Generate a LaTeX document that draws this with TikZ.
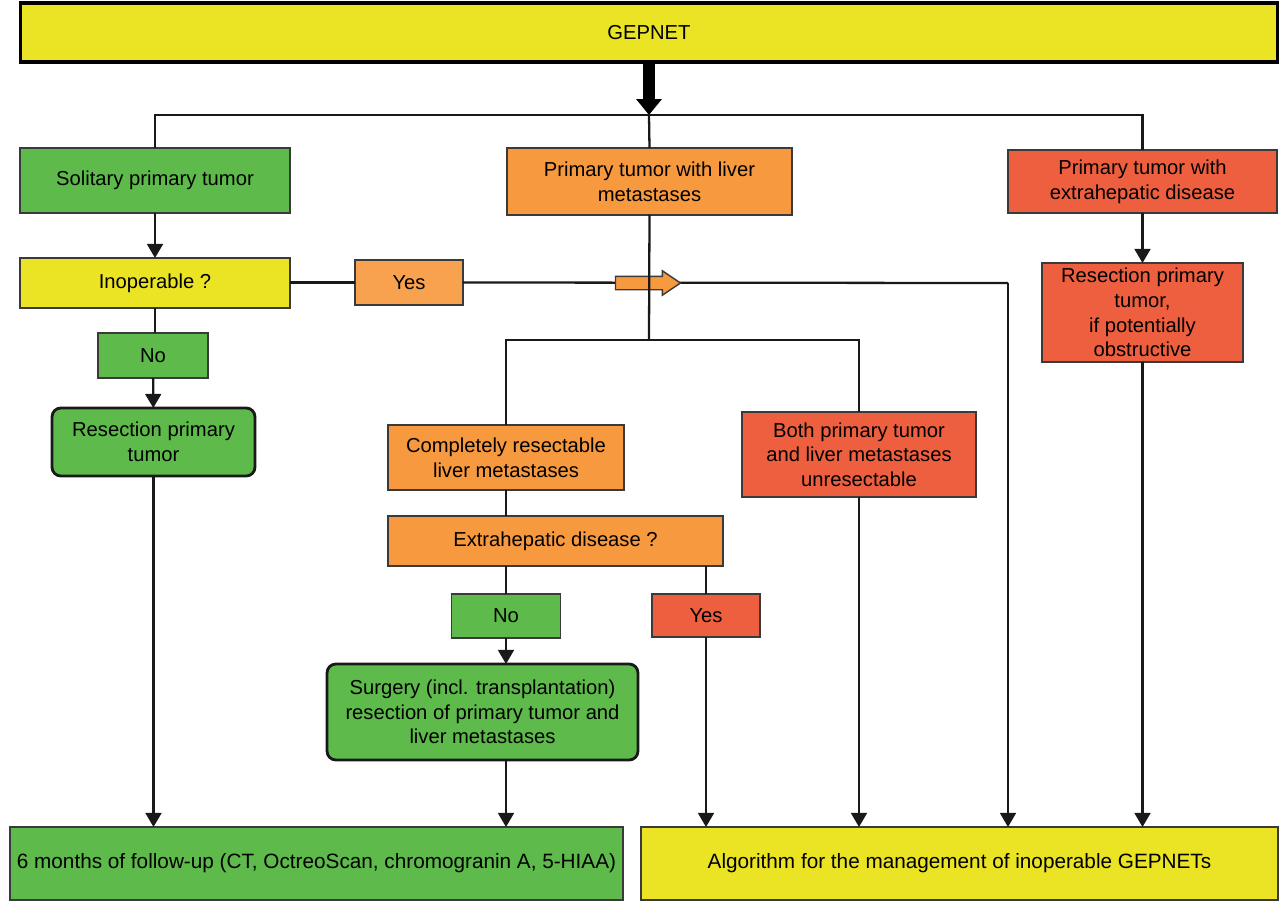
\documentclass[tikz,border=0pt]{standalone}
\usepackage{fontspec}
\setmainfont{Liberation Sans}
\usepackage{tikz}
\usetikzlibrary{arrows.meta,positioning,calc,shapes.arrows}
\definecolor{clYellow}{HTML}{EAE424}
\definecolor{clGreen}{HTML}{5DBA4B}
\definecolor{clOrange}{HTML}{F7993F}
\definecolor{clRed}{HTML}{EE5F3F}
\definecolor{clEdge}{HTML}{3A3A3A}
\tikzset{
  box/.style={rectangle, draw=clEdge, line width=0.8pt, align=center,
              inner sep=0pt, outer sep=0pt, text=black,
              font=\fontsize{11.5}{14}\selectfont},
  yellowbox/.style={box, fill=clYellow},
  greenbox/.style={box, fill=clGreen},
  orangebox/.style={box, fill=clOrange},
  redbox/.style={box, fill=clRed},
  actionbox/.style={greenbox, rounded corners=5pt, draw=black!90, line width=1.6pt},
  outcome/.style={font=\fontsize{11.8}{14}\selectfont},
  link/.style={draw=black!90, line width=1.3pt},
  flow/.style={link, -{Triangle[length=8pt, width=9pt]}},
}
\begin{document}
\begin{tikzpicture}[x=0.02cm, y=-0.02cm]
  \useasboundingbox (0,0) rectangle (1286,910);
  % top level
  \node[yellowbox, draw=black, line width=1.8pt, minimum width=25.16cm, minimum height=1.18cm] (gepnet) at (649,32.5) {GEPNET};
  \node[greenbox, minimum width=5.40cm, minimum height=1.30cm] (solitary) at (155,180.5) {Solitary primary tumor};
  \node[orangebox, minimum width=5.70cm, minimum height=1.34cm] (livermet) at (649.5,181.5) {Primary tumor with liver\\metastases};
  \node[redbox, minimum width=5.38cm, minimum height=1.26cm] (extrahep) at (1142.5,181.5) {Primary tumor with\\extrahepatic disease};
  \coordinate (split) at (649,115);
  \draw[line width=7pt, -{Triangle[length=9pt, width=14pt]}] (gepnet.south -| split) -- (split);
  \draw[link] (solitary.north) |- (split) -| (extrahep.north);
  \draw[link] (split) -- (livermet.north);

  % left branch
  \node[yellowbox, minimum width=5.40cm, minimum height=1.00cm] (inoperable) at (155,283) {Inoperable ?};
  \node[greenbox, minimum width=2.20cm, minimum height=0.90cm] (noA) at (153,355.5) {No};
  \node[actionbox, minimum width=4.06cm, minimum height=1.36cm] (resectA) at (153.5,442) {Resection primary\\tumor};
  \draw[flow] (solitary) -- (inoperable);
  \draw[link] (inoperable.south) -- (inoperable.south |- noA.north);
  \draw[flow] (noA) -- (resectA);

  % yes path to the inoperable algorithm
  \node[orangebox, fill=clOrange!92!white, minimum width=2.16cm, minimum height=0.90cm] (yesA) at (409,282.5) {Yes};
  \coordinate (yesturn) at (1008,283);
  \draw[link] (inoperable.east |- yesA) -- (yesA.west);
  \draw[link] (yesA.east) -- (yesturn);
  \node[single arrow, draw=clEdge, line width=0.8pt, fill=clOrange, inner xsep=0pt, inner ysep=0.12cm,
        minimum width=0.46cm, minimum height=1.30cm, single arrow head extend=0.11cm,
        single arrow tip angle=68] (yesarrow) at (643,283) {};

  % middle branch
  \coordinate (splitB) at (649,340);
  \draw[link] (livermet.south) -- (splitB);
  \node[orangebox, minimum width=4.72cm, minimum height=1.30cm] (complres) at (506,457.5) {Completely resectable\\liver metastases};
  \node[redbox, minimum width=4.68cm, minimum height=1.70cm] (both) at (859,454.5) {Both primary tumor\\and liver metastases\\unresectable};
  \draw[link] (complres.north) |- (splitB) -| (both.north);
  \node[orangebox, minimum width=6.70cm, minimum height=1.00cm] (extraq) at (555.5,541) {Extrahepatic disease ?};
  \draw[link] (complres.south) -- (complres.south |- extraq.north);
  \node[greenbox, minimum width=2.18cm, minimum height=0.88cm] (noB) at (506,616) {No};
  \node[redbox, minimum width=2.16cm, minimum height=0.86cm] (yesB) at (706,615.5) {Yes};
  \draw[link] (noB.north |- extraq.south) -- (noB.north);
  \draw[link] (yesB.north |- extraq.south) -- (yesB.north);
  \node[actionbox, minimum width=6.22cm, minimum height=1.92cm] (surgery) at (482.5,712) {Surgery (incl. transplantation)\\resection of primary tumor and\\liver metastases};
  \draw[flow] (noB.south) -- (noB.south |- surgery.north);

  % right branch
  \node[redbox, minimum width=4.02cm, minimum height=1.98cm] (resectB) at (1142.5,312.5) {Resection primary\\tumor,\\if potentially\\obstructive};
  \draw[flow] (extrahep) -- (resectB);

  % outcomes
  \node[greenbox, outcome, minimum width=12.26cm, minimum height=1.46cm] (followup) at (316.5,863.5) {6 months of follow-up (CT, OctreoScan, chromogranin A, 5-HIAA)};
  \node[yellowbox, outcome, minimum width=12.74cm, minimum height=1.46cm] (algo) at (959.5,863.5) {Algorithm for the management of inoperable GEPNETs};
  \draw[flow] (resectA.south) -- (resectA.south |- followup.north);
  \draw[flow] (noB.south |- surgery.south) -- (noB.south |- followup.north);
  \draw[flow] (yesB.south) -- (yesB.south |- algo.north);
  \draw[flow] (both.south) -- (both.south |- algo.north);
  \draw[flow] (yesturn) -- (yesturn |- algo.north);
  \draw[flow] (resectB.south) -- (resectB.south |- algo.north);
\end{tikzpicture}
\end{document}
